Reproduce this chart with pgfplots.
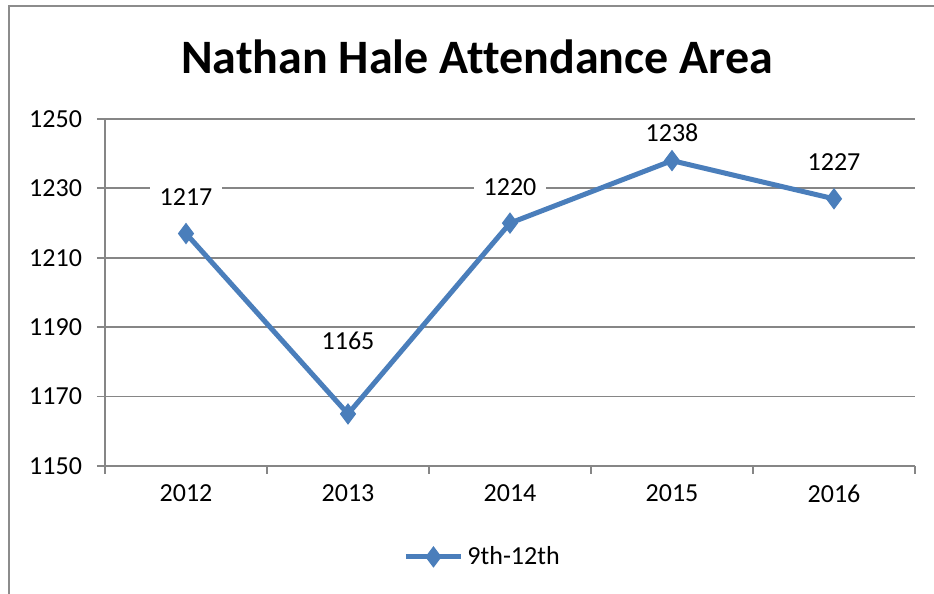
\documentclass[border=0pt]{standalone}
\usepackage{fontspec}
\setmainfont{Carlito}[Ligatures=CommonOff]
\usepackage{pgfplots}
\pgfplotsset{compat=1.18}
\definecolor{linecol}{RGB}{74,126,187}
\definecolor{gridcol}{RGB}{134,134,134}
\definecolor{framecol}{RGB}{140,140,140}

\pgfplotstableread{
x y s
1 1217 18
2 1165 36.5
3 1220 18
4 1238 14
5 1227 18.5
}\hale

\begin{document}
\begin{tikzpicture}
\useasboundingbox (-52.5pt,-64pt) rectangle (414.5pt,233pt);
\begin{axis}[
  at={(0pt,0pt)}, anchor=origin,
  scale only axis,
  width=405pt, height=173.5pt,
  clip=false,
  axis lines=left,
  axis line style={-, draw=gridcol, line width=0.9pt},
  xmin=0.5, xmax=5.5,
  ymin=1150, ymax=1250,
  ytick={1150,1170,...,1250},
  xtick={0.5,1.5,...,5.5},
  xticklabels={,,,,,},
  extra x ticks={1,2,3,4,5},
  extra x tick labels={2012,2013,2014,2015,2016},
  extra x tick style={major tick length=0pt, grid=none},
  tick align=outside,
  major tick length=4pt,
  tick style={draw=gridcol, line width=0.9pt},
  ymajorgrids,
  grid style={draw=gridcol, line width=0.9pt},
  /pgf/number format/assume math mode=true,
  /pgf/number format/1000 sep={},
  tick label style={font=\fontsize{13}{15}\selectfont},
  yticklabel style={xshift=-4pt},
  xticklabel style={yshift=-6pt},
  legend style={at={(0.368,-0.262)}, anchor=west, draw=none,
    font=\fontsize{13}{15}\selectfont, inner sep=0pt},
  legend image code/.code={
    \draw[mark repeat=2, mark phase=2] plot coordinates {(0pt,0pt) (13.75pt,0pt) (27.5pt,0pt)};
  },
]
\addplot[color=linecol, line width=2.5pt, mark=diamond*, mark size=5pt,
  mark options={solid, fill=linecol, draw=linecol, line width=0.5pt},
  visualization depends on={\thisrow{s} \as \lshift},
  nodes near coords,
  point meta=explicit symbolic,
  every node near coord/.append style={anchor=center, yshift=\lshift pt,
    fill=white, inner xsep=5pt, inner ysep=2pt, text=black,
    font=\fontsize{13}{15}\selectfont},
] table[x=x, y=y, meta=y] {\hale};
\addlegendentry{9th-12th}
\end{axis}
\node[anchor=base, font=\fontsize{24}{29}\selectfont\bfseries] at (186pt,196pt) {Nathan Hale Attendance Area};
\draw[framecol, line width=1pt] (-48pt,-70pt) -- (-48pt,230pt) -- (420pt,230pt);
\end{tikzpicture}
\end{document}
